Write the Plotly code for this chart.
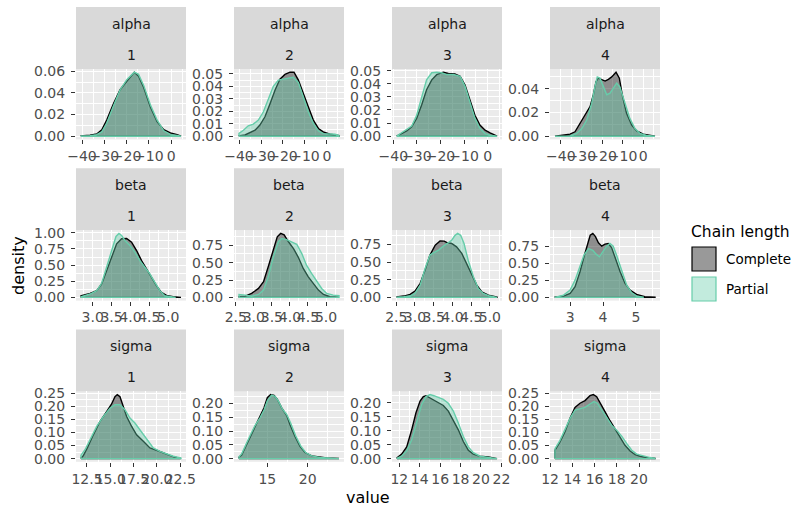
import plotly.graph_objects as go

# ---------------- data (density estimates) ----------------
params = ["alpha", "beta", "sigma"]
chains = ["1", "2", "3", "4"]
series = ["Complete", "Partial"]

alpha1_complete_x = [-40.45, -36.4, -33.4, -31.1, -28.9, -25.9, -22.9, -19.8, -17.6, -16.5, -14.6, -12.3, -9.3, -6.3, -3.3, -0.3, 2.7, 4.45]
alpha1_complete_y = [0.0003, 0.001, 0.002, 0.006, 0.015, 0.030, 0.043, 0.051, 0.0565, 0.0592, 0.0555, 0.045, 0.027, 0.0135, 0.006, 0.003, 0.0015, 0.0006]
alpha1_partial_x = [-40.45, -36.4, -33.4, -31.1, -28.9, -25.9, -22.9, -19.8, -16.5, -14.6, -12.3, -9.3, -6.3, -3.3, -0.3, 2.7, 4.45]
alpha1_partial_y = [0.0003, 0.0004, 0.0015, 0.004, 0.012, 0.028, 0.043, 0.0525, 0.0592, 0.0572, 0.047, 0.029, 0.015, 0.005, 0.0015, 0.0006, 0.0003]

alpha2_complete_x = [-40.0, -37.3, -35.0, -32.7, -30.5, -28.2, -25.9, -23.6, -21.4, -19.1, -16.8, -15.0, -13.0, -10.8, -8.5, -6.2, -3.9, -1.7, 1.4, 5.46]
alpha2_complete_y = [0.0003, 0.001, 0.0027, 0.0048, 0.0089, 0.0156, 0.026, 0.037, 0.0457, 0.0495, 0.0513, 0.0513, 0.045, 0.034, 0.0237, 0.0129, 0.0062, 0.0035, 0.0016, 0.0005]
alpha2_partial_x = [-40.0, -38.0, -35.8, -33.5, -31.2, -28.9, -26.7, -24.4, -22.1, -19.8, -17.6, -15.3, -13.0, -10.8, -8.5, -6.2, -3.9, -1.7, 1.4, 3.6, 5.46]
alpha2_partial_y = [0.0022, 0.0048, 0.0083, 0.0097, 0.0129, 0.0196, 0.030, 0.040, 0.045, 0.0457, 0.0468, 0.0473, 0.043, 0.0317, 0.0196, 0.0102, 0.0043, 0.0021, 0.0016, 0.0016, 0.0005]

alpha3_complete_x = [-38.43, -36.5, -34.3, -32.2, -30.1, -28.0, -25.9, -23.7, -21.6, -18.8, -16.7, -13.9, -11.7, -9.6, -7.5, -5.4, -3.3, -1.1, 1.0, 3.94]
alpha3_complete_y = [0.0002, 0.002, 0.004, 0.0072, 0.0136, 0.0238, 0.0354, 0.043, 0.0469, 0.0488, 0.0478, 0.0475, 0.0456, 0.039, 0.0277, 0.016, 0.0085, 0.0046, 0.0026, 0.0005]
alpha3_partial_x = [-38.43, -36.5, -34.3, -32.2, -30.1, -28.0, -25.9, -23.7, -21.6, -19.5, -17.4, -14.6, -11.7, -9.6, -7.5, -5.4, -3.3, -1.1, 1.0, 3.94]
alpha3_partial_y = [0.0002, 0.0026, 0.0051, 0.0077, 0.016, 0.029, 0.043, 0.0484, 0.0488, 0.0484, 0.047, 0.047, 0.0456, 0.038, 0.025, 0.0136, 0.0059, 0.002, 0.0008, 0.0003]

alpha4_complete_x = [-42.8, -38.7, -35.5, -33.1, -30.6, -28.2, -25.8, -24.2, -22.9, -21.8, -20.2, -18.5, -16.9, -15.3, -13.2, -11.6, -10.0, -8.1, -5.6, -3.2, 0.0, 3.2, 5.7]
alpha4_complete_y = [0.0001, 0.0009, 0.0017, 0.0037, 0.0108, 0.0179, 0.025, 0.035, 0.046, 0.049, 0.0477, 0.0465, 0.048, 0.050, 0.054, 0.049, 0.0335, 0.0193, 0.0094, 0.0045, 0.0017, 0.0006, 0.0001]
alpha4_partial_x = [-42.8, -35.5, -32.3, -29.8, -27.4, -25.0, -23.4, -22.3, -21.0, -19.4, -17.7, -16.1, -14.5, -12.9, -11.3, -8.9, -6.5, -4.0, -1.6, 1.6, 5.7]
alpha4_partial_y = [0.0001, 0.0003, 0.0023, 0.0065, 0.0136, 0.0278, 0.042, 0.050, 0.049, 0.0414, 0.035, 0.0363, 0.041, 0.0448, 0.0414, 0.0278, 0.015, 0.0065, 0.0023, 0.0006, 0.0001]

beta1_complete_x = [2.69, 2.93, 3.106, 3.238, 3.37, 3.502, 3.634, 3.766, 3.899, 4.03, 4.163, 4.295, 4.427, 4.56, 4.69, 4.82, 4.956, 5.13, 5.34]
beta1_complete_y = [0.026, 0.062, 0.104, 0.207, 0.415, 0.648, 0.829, 0.907, 0.912, 0.855, 0.725, 0.57, 0.44, 0.311, 0.181, 0.078, 0.031, 0.01, 0.002]
beta1_partial_x = [2.69, 2.93, 3.106, 3.238, 3.37, 3.502, 3.617, 3.696, 3.766, 3.855, 3.987, 4.119, 4.251, 4.383, 4.515, 4.648, 4.78, 4.91, 5.04, 5.2]
beta1_partial_y = [0.01, 0.052, 0.104, 0.218, 0.466, 0.751, 0.943, 0.99, 0.959, 0.881, 0.803, 0.70, 0.57, 0.466, 0.363, 0.233, 0.104, 0.026, 0.01, 0.002]

beta2_complete_x = [2.59, 2.76, 2.94, 3.13, 3.27, 3.40, 3.54, 3.65, 3.745, 3.84, 3.96, 4.1, 4.23, 4.37, 4.51, 4.65, 4.79, 4.93, 5.11, 5.36]
beta2_complete_y = [0.01, 0.019, 0.057, 0.129, 0.225, 0.44, 0.70, 0.87, 0.92, 0.90, 0.80, 0.70, 0.58, 0.416, 0.296, 0.20, 0.105, 0.043, 0.01, 0.002]
beta2_partial_x = [2.59, 2.76, 2.94, 3.13, 3.27, 3.40, 3.54, 3.68, 3.77, 3.91, 4.05, 4.19, 4.33, 4.46, 4.60, 4.74, 4.88, 5.02, 5.2, 5.36]
beta2_partial_y = [0.043, 0.033, 0.019, 0.043, 0.105, 0.296, 0.58, 0.80, 0.846, 0.83, 0.80, 0.764, 0.63, 0.463, 0.344, 0.239, 0.129, 0.057, 0.033, 0.024]

beta3_complete_x = [2.52, 2.7, 2.87, 3.0, 3.14, 3.27, 3.40, 3.54, 3.67, 3.78, 3.87, 3.98, 4.11, 4.25, 4.38, 4.51, 4.65, 4.78, 4.96, 5.19]
beta3_complete_y = [0.009, 0.019, 0.042, 0.09, 0.2, 0.387, 0.6, 0.74, 0.80, 0.797, 0.774, 0.764, 0.717, 0.623, 0.48, 0.316, 0.175, 0.08, 0.033, 0.005]
beta3_partial_x = [2.52, 2.7, 2.87, 3.0, 3.14, 3.27, 3.40, 3.49, 3.63, 3.76, 3.87, 3.98, 4.07, 4.14, 4.22, 4.31, 4.42, 4.56, 4.69, 4.82, 5.0, 5.19]
beta3_partial_y = [0.005, 0.009, 0.019, 0.057, 0.175, 0.41, 0.6, 0.63, 0.67, 0.726, 0.764, 0.81, 0.88, 0.907, 0.88, 0.764, 0.528, 0.292, 0.127, 0.057, 0.019, 0.005]

beta4_complete_x = [2.54, 2.8, 3.0, 3.15, 3.3, 3.42, 3.53, 3.61, 3.69, 3.77, 3.86, 3.96, 4.06, 4.16, 4.26, 4.39, 4.52, 4.67, 4.82, 5.02, 5.27, 5.58]
beta4_complete_y = [0.005, 0.019, 0.058, 0.156, 0.375, 0.594, 0.789, 0.91, 0.937, 0.89, 0.80, 0.75, 0.78, 0.79, 0.73, 0.546, 0.375, 0.205, 0.107, 0.044, 0.01, 0.003]
beta4_partial_x = [2.54, 2.8, 3.0, 3.15, 3.3, 3.42, 3.56, 3.69, 3.79, 3.89, 3.99, 4.11, 4.21, 4.31, 4.41, 4.57, 4.72, 4.87, 5.02, 5.22]
beta4_partial_y = [0.003, 0.034, 0.107, 0.253, 0.458, 0.62, 0.716, 0.69, 0.633, 0.594, 0.667, 0.75, 0.79, 0.75, 0.62, 0.375, 0.18, 0.068, 0.019, 0.005]

sigma1_complete_x = [11.86, 12.1, 12.54, 13.18, 13.89, 14.61, 15.14, 15.5, 15.75, 16.04, 16.32, 16.75, 17.29, 17.82, 18.54, 19.25, 19.96, 20.68, 21.39, 21.93, 22.5]
sigma1_complete_y = [0.0025, 0.011, 0.041, 0.091, 0.142, 0.18, 0.209, 0.237, 0.245, 0.237, 0.206, 0.161, 0.123, 0.091, 0.066, 0.041, 0.032, 0.022, 0.011, 0.005, 0.001]
sigma1_partial_x = [11.86, 12.29, 12.82, 13.54, 14.25, 14.96, 15.5, 16.04, 16.57, 17.11, 17.64, 18.18, 18.89, 19.61, 20.32, 21.04, 21.75, 22.58]
sigma1_partial_y = [0.013, 0.034, 0.072, 0.123, 0.161, 0.193, 0.206, 0.206, 0.187, 0.155, 0.136, 0.11, 0.072, 0.041, 0.028, 0.019, 0.009, 0.002]

sigma2_complete_x = [11.49, 11.82, 12.23, 12.85, 13.47, 14.09, 14.59, 15.0, 15.41, 15.83, 16.24, 16.78, 17.4, 17.81, 18.43, 19.05, 19.67, 20.5, 21.53, 22.36, 23.88]
sigma2_complete_y = [0.005, 0.013, 0.038, 0.08, 0.117, 0.151, 0.184, 0.221, 0.232, 0.229, 0.215, 0.184, 0.156, 0.123, 0.08, 0.044, 0.022, 0.01, 0.006, 0.0025, 0.0003]
sigma2_partial_x = [11.49, 11.82, 12.23, 12.85, 13.47, 14.09, 14.59, 15.0, 15.54, 15.95, 16.36, 16.86, 17.4, 17.89, 18.51, 19.13, 19.75, 20.5, 21.53, 22.77, 23.88]
sigma2_partial_y = [0.007, 0.017, 0.041, 0.083, 0.12, 0.148, 0.176, 0.209, 0.23, 0.226, 0.209, 0.18, 0.16, 0.129, 0.083, 0.046, 0.022, 0.01, 0.004, 0.0012, 0.0002]

sigma3_complete_x = [11.77, 12.23, 12.72, 13.21, 13.63, 14.03, 14.35, 14.61, 14.94, 15.33, 15.82, 16.31, 16.8, 17.29, 17.78, 18.27, 18.76, 19.25, 19.9, 20.73, 21.57]
sigma3_complete_y = [0.0024, 0.016, 0.042, 0.103, 0.164, 0.206, 0.222, 0.225, 0.218, 0.21, 0.202, 0.19, 0.17, 0.139, 0.103, 0.061, 0.03, 0.016, 0.0085, 0.006, 0.0024]
sigma3_partial_x = [11.77, 12.23, 12.72, 13.21, 13.7, 14.19, 14.61, 15.0, 15.39, 15.82, 16.31, 16.8, 17.29, 17.78, 18.27, 18.76, 19.25, 19.9, 20.73, 21.57]
sigma3_partial_y = [0.0012, 0.0085, 0.028, 0.067, 0.127, 0.194, 0.222, 0.229, 0.225, 0.218, 0.212, 0.198, 0.17, 0.127, 0.079, 0.042, 0.021, 0.0085, 0.0036, 0.0012]

sigma4_complete_x = [12.44, 12.89, 13.34, 13.79, 14.24, 14.69, 15.14, 15.59, 15.89, 16.19, 16.55, 16.94, 17.39, 17.84, 18.29, 18.74, 19.2, 19.65, 20.1, 20.7, 21.44]
sigma4_complete_y = [0.032, 0.064, 0.103, 0.154, 0.196, 0.212, 0.222, 0.241, 0.245, 0.237, 0.212, 0.18, 0.145, 0.115, 0.083, 0.051, 0.029, 0.015, 0.009, 0.004, 0.001]
sigma4_partial_x = [12.44, 12.89, 13.34, 13.79, 14.24, 14.69, 15.14, 15.59, 15.95, 16.25, 16.64, 17.09, 17.54, 17.99, 18.44, 18.89, 19.35, 19.8, 20.4, 21.0, 21.44]
sigma4_partial_y = [0.038, 0.07, 0.109, 0.154, 0.186, 0.192, 0.196, 0.209, 0.218, 0.212, 0.186, 0.154, 0.128, 0.109, 0.086, 0.058, 0.032, 0.017, 0.009, 0.004, 0.001]

data = {
    ("alpha", "1"): ((alpha1_complete_x, alpha1_complete_y), (alpha1_partial_x, alpha1_partial_y)),
    ("alpha", "2"): ((alpha2_complete_x, alpha2_complete_y), (alpha2_partial_x, alpha2_partial_y)),
    ("alpha", "3"): ((alpha3_complete_x, alpha3_complete_y), (alpha3_partial_x, alpha3_partial_y)),
    ("alpha", "4"): ((alpha4_complete_x, alpha4_complete_y), (alpha4_partial_x, alpha4_partial_y)),
    ("beta", "1"): ((beta1_complete_x, beta1_complete_y), (beta1_partial_x, beta1_partial_y)),
    ("beta", "2"): ((beta2_complete_x, beta2_complete_y), (beta2_partial_x, beta2_partial_y)),
    ("beta", "3"): ((beta3_complete_x, beta3_complete_y), (beta3_partial_x, beta3_partial_y)),
    ("beta", "4"): ((beta4_complete_x, beta4_complete_y), (beta4_partial_x, beta4_partial_y)),
    ("sigma", "1"): ((sigma1_complete_x, sigma1_complete_y), (sigma1_partial_x, sigma1_partial_y)),
    ("sigma", "2"): ((sigma2_complete_x, sigma2_complete_y), (sigma2_partial_x, sigma2_partial_y)),
    ("sigma", "3"): ((sigma3_complete_x, sigma3_complete_y), (sigma3_partial_x, sigma3_partial_y)),
    ("sigma", "4"): ((sigma4_complete_x, sigma4_complete_y), (sigma4_partial_x, sigma4_partial_y)),
}

# ---------------- styling ----------------
x_dtick = {("alpha", c): 10 for c in chains}
x_dtick.update({("beta", "1"): 0.5, ("beta", "2"): 0.5, ("beta", "3"): 0.5, ("beta", "4"): 1,
                ("sigma", "1"): 2.5, ("sigma", "2"): 5, ("sigma", "3"): 2, ("sigma", "4"): 2})
x_fmt = {("beta", "1"): ".1f", ("beta", "2"): ".1f", ("beta", "3"): ".1f", ("sigma", "1"): ".1f"}
y_dtick = {("alpha", "1"): 0.02, ("alpha", "2"): 0.01, ("alpha", "3"): 0.01, ("alpha", "4"): 0.02}
y_dtick.update({("beta", c): 0.25 for c in chains})
y_dtick.update({("sigma", c): 0.05 for c in chains})

fill_col = {"Complete": "rgba(0,0,0,0.4)", "Partial": "rgba(102,205,170,0.4)"}
line_col = {"Complete": "#000000", "Partial": "#66CDAA"}

W, H = 799, 506
FONT = "DejaVu Sans, Liberation Sans, Arial"
col_left = [76, 234, 392, 550]
PW = 110
strip_top = [7, 168.2, 329.4]
STRIP_H = 62
PH = 70.4

fig = go.Figure()
shapes, annotations = [], []
layout = {}

for r, p in enumerate(params):
    for c, ch in enumerate(chains):
        k = r * 4 + c + 1
        xa = "x" if k == 1 else f"x{k}"
        ya = "y" if k == 1 else f"y{k}"
        (cx, cy), (px_, py_) = data[(p, ch)]
        for name, (xs, ys) in zip(series, [(cx, cy), (px_, py_)]):
            poly_x = [xs[0]] + list(xs) + [xs[-1], xs[0]]
            poly_y = [0] + list(ys) + [0, 0]
            fig.add_trace(go.Scatter(
                x=poly_x, y=poly_y, mode="lines", fill="toself",
                fillcolor=fill_col[name], line=dict(color=line_col[name], width=1.4),
                name=name, showlegend=False, xaxis=xa, yaxis=ya, hoverinfo="skip"))
        allx = list(cx) + list(px_)
        ally = list(cy) + list(py_)
        xmin, xmax = min(allx), max(allx)
        xr = xmax - xmin
        ym = max(ally)
        L = col_left[c]
        pt = strip_top[r] + STRIP_H
        dom_x = [L / W, (L + PW) / W]
        dom_y = [1 - (pt + PH) / H, 1 - pt / H]
        xd = x_dtick[(p, ch)]
        yd = y_dtick[(p, ch)]
        common = dict(showline=False, zeroline=False, ticks="outside", ticklen=4,
                      tickwidth=1, tickcolor="#333333", gridcolor="white", gridwidth=1.1,
                      automargin=False, tickangle=0,
                      tickfont=dict(family=FONT, size=14, color="#4D4D4D"))
        layout["xaxis" if k == 1 else f"xaxis{k}"] = dict(
            domain=dom_x, anchor=ya, range=[xmin - 0.05 * xr, xmax + 0.05 * xr],
            tick0=0, dtick=xd, tickformat=x_fmt.get((p, ch), ""),
            minor=dict(tick0=0, dtick=xd / 2, showgrid=True, gridcolor="white", gridwidth=0.55, ticks=""),
            **common)
        layout["yaxis" if k == 1 else f"yaxis{k}"] = dict(
            domain=dom_y, anchor=xa, range=[-0.05 * ym, 1.05 * ym],
            tick0=0, dtick=yd, tickformat=".2f", ticklabelstandoff=3,
            minor=dict(tick0=0, dtick=yd / 2, showgrid=True, gridcolor="white", gridwidth=0.55, ticks=""),
            **common)
        # facet strip
        shapes.append(dict(type="rect", xref="paper", yref="paper",
                           x0=L / W, x1=(L + PW) / W,
                           y0=1 - pt / H, y1=1 - strip_top[r] / H,
                           fillcolor="#D9D9D9", line=dict(width=0), layer="below"))
        for txt, off in [(p, 17), (ch, 48)]:
            annotations.append(dict(text=txt, xref="paper", yref="paper",
                                    x=(L + PW / 2) / W, y=1 - (strip_top[r] + off) / H,
                                    showarrow=False, xanchor="center", yanchor="middle",
                                    font=dict(family=FONT, size=14, color="#1A1A1A")))

# axis titles
annotations.append(dict(text="value", xref="paper", yref="paper", x=368 / W, y=1 - 497 / H,
                        showarrow=False, xanchor="center", yanchor="middle",
                        font=dict(family=FONT, size=16, color="black")))
annotations.append(dict(text="density", xref="paper", yref="paper", x=18 / W, y=1 - 266 / H,
                        showarrow=False, xanchor="center", yanchor="middle", textangle=-90,
                        font=dict(family=FONT, size=16, color="black")))

# legend
annotations.append(dict(text="Chain length", xref="paper", yref="paper", x=689 / W, y=1 - 232 / H,
                        showarrow=False, xanchor="left", yanchor="middle",
                        font=dict(family=FONT, size=15.5, color="black")))
key_top = [247, 277]
for i, name in enumerate(series):
    shapes.append(dict(type="rect", xref="paper", yref="paper",
                       x0=692 / W, x1=716 / W, y0=1 - (key_top[i] + 24) / H, y1=1 - key_top[i] / H,
                       fillcolor=fill_col[name], line=dict(color=line_col[name], width=1.2)))
    annotations.append(dict(text=name, xref="paper", yref="paper", x=724 / W,
                            y=1 - (key_top[i] + 12) / H, showarrow=False,
                            xanchor="left", yanchor="middle",
                            font=dict(family=FONT, size=13.5, color="black")))

fig.update_layout(
    width=W, height=H, margin=dict(l=0, r=0, t=0, b=0),
    paper_bgcolor="white", plot_bgcolor="#EBEBEB",
    showlegend=False, shapes=shapes, annotations=annotations, **layout)

fig.write_html("out.html", config={"displayModeBar": False},
               post_script="document.body.style.margin='0px';document.body.style.overflow='hidden';")
